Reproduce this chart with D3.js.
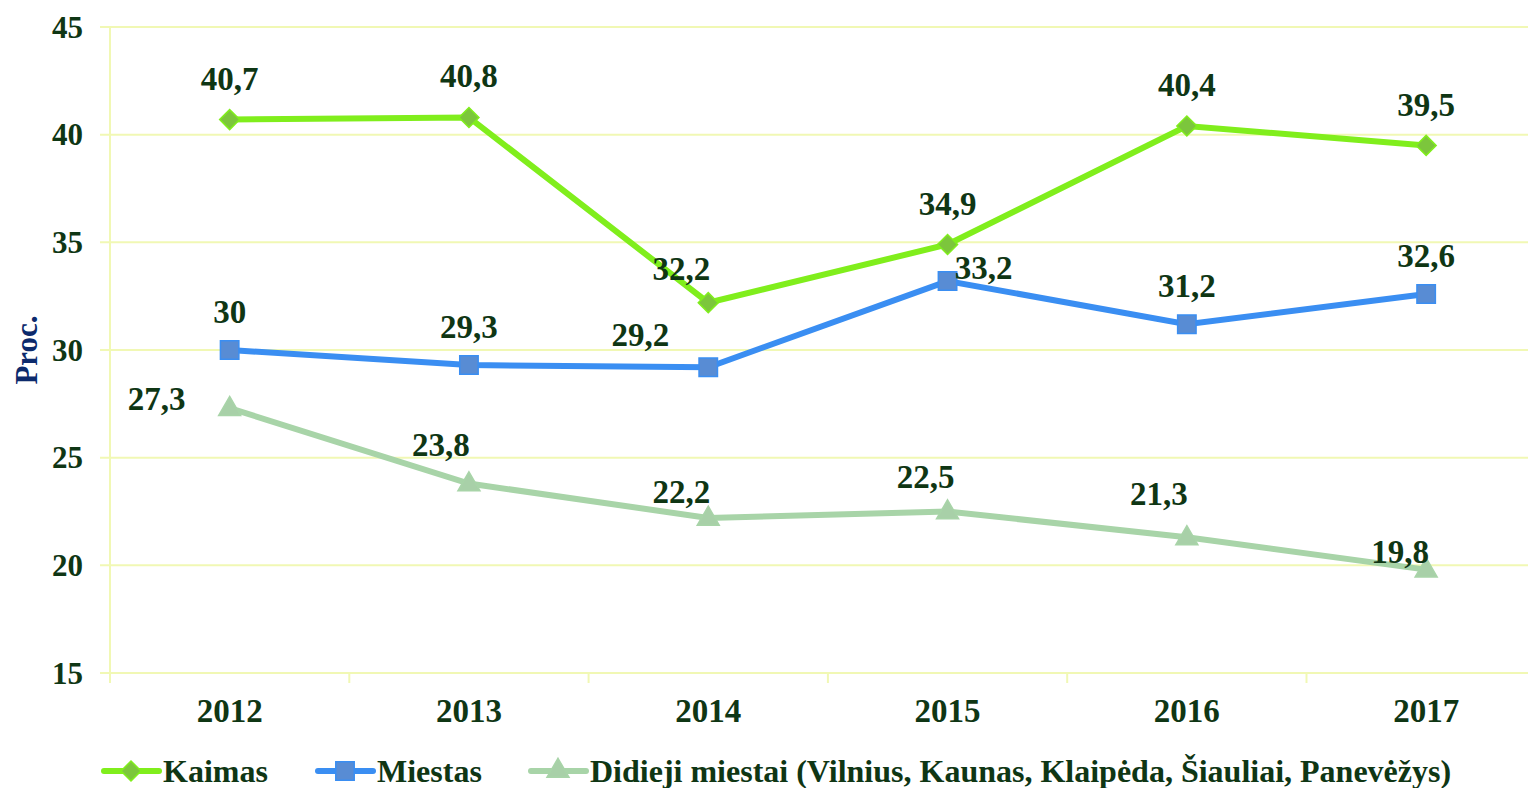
<!DOCTYPE html>
<html>
<head>
<meta charset="utf-8">
<script src="https://cdn.jsdelivr.net/npm/d3@7"></script>
<style>
  body { margin: 0; background: #fff; }
  svg { display: block; overflow: hidden; }
  text { font-family: "Liberation Serif", "Times New Roman", serif; font-weight: bold; }
</style>
</head>
<body>
<div id="chart"></div>
<script>
// Data
const years = ['2012', '2013', '2014', '2015', '2016', '2017'];
const kaimas = [40.7, 40.8, 32.2, 34.9, 40.4, 39.5];
const miestas = [30, 29.3, 29.2, 33.2, 31.2, 32.6];
const didieji = [27.3, 23.8, 22.2, 22.5, 21.3, 19.8];
const yTicks = [15, 20, 25, 30, 35, 40, 45];

const width = 1528;
const height = 788;
const textColor = '#0f3614';

// label placement per point (dx, dy from the marker)
const series = [
    {
        name: 'Kaimas', values: kaimas, line: '#80ee1c', fill: '#7cc63c', stroke: '#80ee1c', shape: 'diamond',
        offsets: [[0, -30], [0, -30], [-27, -23], [0, -29], [0, -30], [0, -29]]
    },
    {
        name: 'Miestas', values: miestas, line: '#3a8ef2', fill: '#588cd4', stroke: '#3a8ef2', shape: 'square',
        offsets: [[0, -27], [0, -27], [-68, -21], [36, -2], [0, -27], [0, -27]]
    },
    {
        name: 'Didieji miestai (Vilnius, Kaunas, Klaipėda, Šiauliai, Panevėžys)', values: didieji,
        line: '#a8d4a8', fill: '#a8d0a8', stroke: '#a8d4a8', shape: 'triangle',
        offsets: [[-73, 2], [-28, -28], [-27, -15], [-22, -24], [-28, -32], [-26, -7]]
    }
];

const svg = d3.select('#chart')
    .append('svg')
    .attr('width', width)
    .attr('height', height);

const x = d3.scaleBand()
    .domain(years)
    .range([110, 110 + 6 * 239.3]);

const y = d3.scaleLinear()
    .domain([15, 45])
    .range([673, 27]);

// gridlines
svg.append('g')
    .selectAll('line')
    .data(yTicks)
    .enter().append('line')
    .attr('x1', 100)
    .attr('x2', width)
    .attr('y1', d => y(d))
    .attr('y2', d => y(d))
    .attr('stroke', '#f1f8b4')
    .attr('stroke-width', 2);

// y axis line
svg.append('line')
    .attr('x1', 110).attr('x2', 110)
    .attr('y1', y(45)).attr('y2', y(15) + 10)
    .attr('stroke', '#f1f8b4')
    .attr('stroke-width', 2);

// x tick marks at band edges
svg.append('g')
    .selectAll('line')
    .data(years.slice(1))
    .enter().append('line')
    .attr('x1', d => x(d))
    .attr('x2', d => x(d))
    .attr('y1', y(15))
    .attr('y2', y(15) + 10)
    .attr('stroke', '#f1f8b4')
    .attr('stroke-width', 2);

// y tick labels
svg.append('g')
    .selectAll('text')
    .data(yTicks)
    .enter().append('text')
    .attr('x', 83)
    .attr('y', d => y(d))
    .attr('dy', '0.34em')
    .attr('text-anchor', 'end')
    .attr('fill', textColor)
    .style('font-size', '31px')
    .text(d => d);

// x tick labels
svg.append('g')
    .selectAll('text')
    .data(years)
    .enter().append('text')
    .attr('x', d => x(d) + x.bandwidth() / 2)
    .attr('y', 722)
    .attr('text-anchor', 'middle')
    .attr('fill', textColor)
    .style('font-size', '33px')
    .text(d => d);

// axis title
svg.append('text')
    .attr('transform', 'translate(37,350) rotate(-90)')
    .attr('text-anchor', 'middle')
    .attr('fill', '#0c2a6c')
    .style('font-size', '31px')
    .text('Proc.');

const symbolFor = {
    diamond: d3.symbol().type(d3.symbolSquare).size(200),
    square: d3.symbol().type(d3.symbolSquare).size(340),
    triangle: d3.symbol().type(d3.symbolTriangle).size(210)
};

const line = d3.line()
    .x((d, i) => x(years[i]) + x.bandwidth() / 2)
    .y(d => y(d));

series.forEach(s => {
    svg.append('path')
        .datum(s.values)
        .attr('fill', 'none')
        .attr('stroke', s.line)
        .attr('stroke-width', 6)
        .attr('d', line);

    svg.append('g')
        .selectAll('path')
        .data(s.values)
        .enter().append('path')
        .attr('d', symbolFor[s.shape])
        .attr('transform', (d, i) => {
            const t = `translate(${x(years[i]) + x.bandwidth() / 2},${y(d)})`;
            return s.shape === 'diamond' ? t + ' rotate(45)' : (s.shape === 'triangle' ? t + ' translate(0,1)' : t);
        })
        .attr('fill', s.fill)
        .attr('stroke', s.stroke)
        .attr('stroke-width', 1.5);

    svg.append('g')
        .selectAll('text')
        .data(s.values)
        .enter().append('text')
        .attr('x', (d, i) => x(years[i]) + x.bandwidth() / 2 + s.offsets[i][0])
        .attr('y', (d, i) => y(d) + s.offsets[i][1])
        .attr('text-anchor', 'middle')
        .attr('fill', textColor)
        .style('font-size', '33px')
        .text(d => String(d).replace('.', ','));
});

// legend
const legendX = [104, 318, 531];
const legend = svg.append('g');
series.forEach((s, i) => {
    const g = legend.append('g').attr('transform', `translate(${legendX[i]},771)`);
    g.append('line')
        .attr('x1', 0).attr('x2', 55)
        .attr('stroke', s.line)
        .attr('stroke-width', 6)
        .attr('stroke-linecap', 'round');
    g.append('path')
        .attr('d', symbolFor[s.shape])
        .attr('transform', s.shape === 'diamond' ? 'translate(27,0) rotate(45)' : 'translate(27,0)')
        .attr('fill', s.fill)
        .attr('stroke', s.stroke)
        .attr('stroke-width', 1.5);
    g.append('text')
        .attr('x', 59)
        .attr('y', 0)
        .attr('dy', '0.34em')
        .attr('fill', textColor)
        .style('font-size', '32px')
        .text(s.name);
});
</script>
</body>
</html>
